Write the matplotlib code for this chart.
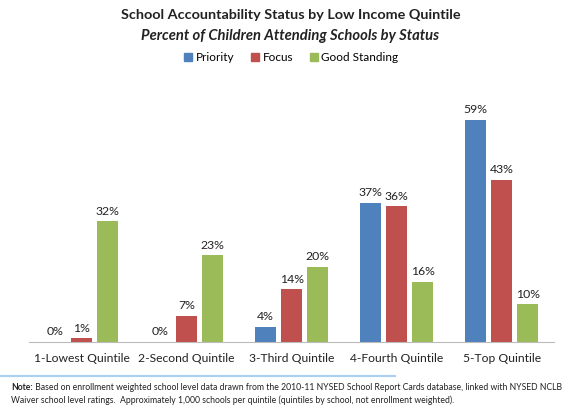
import numpy as np
import matplotlib.pyplot as plt
from matplotlib.lines import Line2D

quintiles = ['1-Lowest Quintile', '2-Second Quintile', '3-Third Quintile',
             '4-Fourth Quintile', '5-Top Quintile']
priority = [0, 0, 4, 37, 59]
focus = [1, 7, 14, 36, 43]
good_standing = [32, 23, 20, 16, 10]

series = [('Priority', priority, '#4F81BD'),
          ('Focus', focus, '#C0504D'),
          ('Good Standing', good_standing, '#9BBB59')]

plt.rcParams['font.family'] = ['Lato', 'DejaVu Sans']

fig = plt.figure(figsize=(5.64, 4.07), dpi=100)
ax = fig.add_axes([0.0514, 0.1597, 0.931, 0.602])

x = np.arange(len(quintiles))
w = 0.2
step = 0.25
for i, (name, vals, col) in enumerate(series):
    pos = x + (i - 1) * step
    bars = ax.bar(pos, vals, w, color=col, label=name, zorder=2)
    for b, v in zip(bars, vals):
        ax.text(b.get_x() + b.get_width() / 2, v + 1.2, f'{v}%',
                ha='center', va='bottom', fontsize=8.8, color='#222222')

ax.set_xlim(-0.5, 4.5)
ax.set_ylim(0, 65)
ax.set_xticks(x)
ax.set_xticklabels(quintiles, fontsize=8.7, color='#222222')
ax.tick_params(axis='x', length=0, pad=8)
ax.set_yticks([])
for s in ['top', 'right', 'left']:
    ax.spines[s].set_visible(False)
ax.spines['bottom'].set_color('#BBBBBB')
ax.spines['bottom'].set_linewidth(0.8)

# titles
fig.text(0.515, 0.962, 'School Accountability Status by Low Income Quintile',
         ha='center', va='center', fontsize=10.4, fontweight='bold', color='#222222')
fig.text(0.515, 0.912, 'Percent of Children Attending Schools by Status',
         ha='center', va='center', fontsize=10.6, fontweight='bold',
         style='italic', color='#222222')

handles = [Line2D([], [], marker='s', linestyle='', markersize=6, color=c)
           for _, _, c in series]
fig.legend(handles, [n for n, _, _ in series], loc='center',
           bbox_to_anchor=(0.515, 0.858), ncol=3, frameon=False, fontsize=8.5,
           handletextpad=0.1, columnspacing=1.3, handlelength=1)

# note below the chart
fig.add_artist(Line2D([0.0, 0.70], [0.077, 0.077], color='#A9D0F0', lw=1.5))
t = fig.text(0.02, 0.048, 'Note:', fontsize=6.2, fontweight='bold',
             ha='left', va='center', color='#222222')
fig.text(0.02, 0.016,
         'Waiver school level ratings.  Approximately 1,000 schools per quintile '
         '(quintiles by school, not enrollment weighted).',
         fontsize=6.2, ha='left', va='center', color='#222222')
ax.annotate(' Based on enrollment weighted school level data drawn from the 2010-11 '
            'NYSED School Report Cards database, linked with NYSED NCLB',
            xy=(1, 0.5), xycoords=t, ha='left', va='center', fontsize=6.2,
            color='#222222', annotation_clip=False)

fig.savefig('out.png', dpi=100)
